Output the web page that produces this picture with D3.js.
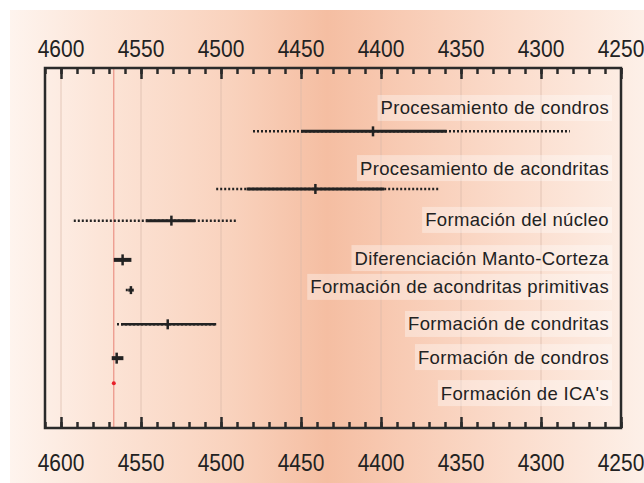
<!DOCTYPE html>
<html>
<head>
<meta charset="utf-8">
<script src="https://cdn.jsdelivr.net/npm/d3@7"></script>
<style>
  body { margin: 0; background: #fff; }
  text { font-family: "Liberation Sans", Arial, sans-serif; fill: #222; }
</style>
</head>
<body>
<div id="chart"></div>
<script>
// Eventos (de arriba abajo) y edades en millones de años
const events = [
  "Procesamiento de condros",
  "Procesamiento de acondritas",
  "Formación del núcleo",
  "Diferenciación Manto-Corteza",
  "Formación de acondritas primitivas",
  "Formación de condritas",
  "Formación de condros",
  "Formación de ICA's"
];
// rango punteado (incertidumbre amplia)
const outerFrom = [4480, 4503, 4592, null, 4559.5, 4565, null, null];
const outerTo   = [4282, 4364, 4490, null, 4554.5, 4503, null, null];
// rango sólido
const innerFrom = [4450, 4484, 4547, 4567, 4558, 4562.5, 4568.3, null];
const innerTo   = [4359, 4398, 4516, 4556, 4554.5, 4503, 4561, null];
// edad central
const best      = [4405, 4441, 4531, 4561.5, 4556.3, 4533.3, 4565.2, 4567];
// posición vertical de cada barra y su etiqueta (0 = arriba, 100 = abajo)
const barRow    = [17.6, 33.6, 42.4, 53.3, 61.7, 71.2, 80.6, 87.6];
const labelRow  = [11.1, 27.8, 42.2, 52.8, 60.8, 71.1, 80.3, 90.3];
const majorTicks = d3.range(4600, 4249, -50);
const minorTicks = d3.range(4610, 4249, -10);
const icaAge = 4567;

const W = 644, H = 483;
const box = { left: 45, right: 621, top: 68, bottom: 428 };
const lineW = [3, 3, 3, 4, 3, 2.5, 4, 0];
const tickH = [10, 10, 10, 11, 8, 10, 11, 0];

const svg = d3.select("#chart").append("svg")
  .attr("width", W).attr("height", H);

// fondo degradado
const grad = svg.append("defs").append("linearGradient")
  .attr("id", "bg").attr("x1", "0%").attr("x2", "100%");
[["0%", "#fef4ee"], ["14%", "#fce5d8"], ["35%", "#f9d2bd"], ["50%", "#f5bea2"],
 ["62%", "#f8cbb4"], ["80%", "#fbddcd"], ["100%", "#fdf0e8"]]
  .forEach(([o, c]) => grad.append("stop").attr("offset", o).attr("stop-color", c));
svg.append("rect").attr("x", 10).attr("y", 10)
  .attr("width", W - 10).attr("height", H - 10).attr("fill", "url(#bg)");

const x = d3.scaleLinear().domain([4610, 4250]).range([box.left, box.right]);
const y = d3.scaleLinear().domain([0, 100]).range([box.top, box.bottom]);

// rejilla vertical
svg.append("g").selectAll("line").data(majorTicks.slice(0, -1)).join("line")
  .attr("x1", d => x(d)).attr("x2", d => x(d))
  .attr("y1", box.top).attr("y2", box.bottom)
  .attr("stroke", "#d9b8a8").attr("stroke-opacity", 0.7).attr("stroke-width", 1);

// línea roja de los ICA
svg.append("line")
  .attr("x1", x(icaAge)).attr("x2", x(icaAge))
  .attr("y1", box.top).attr("y2", box.bottom)
  .attr("stroke", "#e46a5e").attr("stroke-opacity", 0.8).attr("stroke-width", 1);

// etiquetas con fondo claro
const labels = svg.append("g");
events.forEach((name, i) => {
  const t = labels.append("text")
    .attr("x", x(4250) - 12).attr("y", y(labelRow[i]))
    .attr("dy", "0.35em").attr("text-anchor", "end")
    .attr("font-size", 18.5).attr("letter-spacing", 0.35)
    .text(name);
  const b = t.node().getBBox();
  labels.insert("rect", "text")
    .attr("x", b.x - 3).attr("y", y(labelRow[i]) - 13)
    .attr("width", b.width + 6).attr("height", 26)
    .attr("fill", "#fff").attr("fill-opacity", 0.35);
});

// barras
const bars = svg.append("g").attr("stroke", "#222");
events.forEach((name, i) => {
  const yy = y(barRow[i]);
  if (outerFrom[i] != null) {
    bars.append("line")
      .attr("x1", x(outerFrom[i])).attr("x2", x(outerTo[i]))
      .attr("y1", yy).attr("y2", yy)
      .attr("stroke-width", 2.5).attr("stroke-dasharray", "2,2");
  }
  if (innerFrom[i] != null) {
    bars.append("line")
      .attr("x1", x(innerFrom[i])).attr("x2", x(innerTo[i]))
      .attr("y1", yy).attr("y2", yy)
      .attr("stroke-width", lineW[i]);
    bars.append("line")
      .attr("x1", x(best[i])).attr("x2", x(best[i]))
      .attr("y1", yy - tickH[i] / 2).attr("y2", yy + tickH[i] / 2)
      .attr("stroke-width", 2.5);
  } else {
    svg.append("circle")
      .attr("cx", x(best[i])).attr("cy", yy).attr("r", 2)
      .attr("fill", "#e8202a");
  }
});

// marco y ejes
svg.append("rect")
  .attr("x", box.left).attr("y", box.top)
  .attr("width", box.right - box.left).attr("height", box.bottom - box.top)
  .attr("fill", "none").attr("stroke", "#2a2a2a").attr("stroke-width", 2.5);

function axes(gen, yPos) {
  const g1 = svg.append("g").attr("transform", `translate(0,${yPos})`)
    .call(gen(x).tickValues(minorTicks).tickSizeInner(-6).tickSizeOuter(0).tickFormat(""));
  const g2 = svg.append("g").attr("transform", `translate(0,${yPos})`)
    .call(gen(x).tickValues(majorTicks).tickSizeInner(-11).tickSizeOuter(0).tickFormat(""));
  [g1, g2].forEach(g => {
    g.select(".domain").remove();
    g.selectAll("line").attr("stroke", "#2a2a2a").attr("stroke-width", 2.5);
  });
}
axes(d3.axisTop, box.top);
axes(d3.axisBottom, box.bottom);

// números de los ejes
[57, 471].forEach(base => {
  svg.append("g").selectAll("text").data(majorTicks).join("text")
    .attr("transform", d => `translate(${x(d)},${base}) scale(1,1.15)`)
    .attr("text-anchor", "middle").attr("font-size", 21)
    .text(d => d);
});
</script>
</body>
</html>
